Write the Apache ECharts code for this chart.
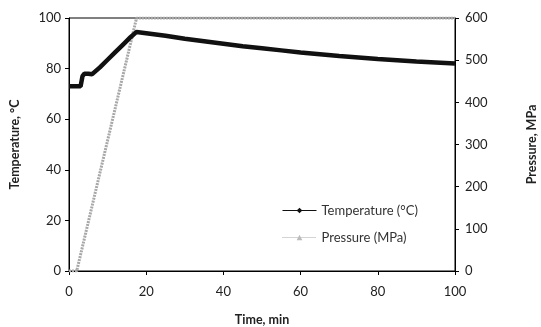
<!DOCTYPE html>
<html><head><meta charset="utf-8">
<script src="https://cdn.jsdelivr.net/npm/echarts@6/dist/echarts.min.js"></script>
<style>html,body{margin:0;padding:0;background:#fff}#c{width:541px;height:327px}</style>
</head><body><div id="c"></div>
<script>
const tempTime = [0,1,2,3,3.5,4,5,6,8,10,12,14,16,17.5,20,25,30,35,40,45,50,55,60,65,70,75,80,85,90,95,100];
const tempValues = [73,73,73,73,77,78,78,77.8,80.5,83.5,86.5,89.5,92.5,94.5,94,93,91.8,90.8,89.8,88.8,88,87.2,86.4,85.7,85,84.4,83.8,83.3,82.8,82.4,82];
const pressTime = [0,2,17.5,100];
const pressValues = [0,0,600,600];
const F = 'Lato';
const chart = echarts.init(document.getElementById('c'));
chart.setOption({
  animation:false,
  textStyle:{fontFamily:F},
  grid:{left:69,right:86,top:18,bottom:56,show:true,borderColor:'#000',borderWidth:1,
        containLabel:false,outerBoundsMode:'none'},
  legend:{orient:'vertical',left:277,top:199,itemWidth:34,itemHeight:7,itemGap:14,
    textStyle:{fontFamily:F,fontSize:13,color:'#333'},
    data:[
      {name:'Temperature (°C)',lineStyle:{width:1},itemStyle:{color:'#111'}},
      {name:'Pressure (MPa)',lineStyle:{width:1,type:'dotted'},itemStyle:{color:'#bbb'}}
    ]},
  xAxis:{type:'value',min:0,max:100,interval:20,
    name:'Time, min',nameLocation:'middle',nameGap:42,
    nameTextStyle:{fontFamily:F,fontWeight:'bold',fontSize:12.5,color:'#222'},
    axisLine:{lineStyle:{color:'#000'}},axisTick:{show:true,length:4,lineStyle:{color:'#000'}},
    axisLabel:{fontSize:13,color:'#222',margin:14},splitLine:{show:false}},
  yAxis:[
    {type:'value',min:0,max:100,interval:20,position:'left',
     name:'Temperature, °C',nameLocation:'middle',nameGap:48,nameRotate:90,
     nameTextStyle:{fontFamily:F,fontWeight:'bold',fontSize:12.5,color:'#222'},
     axisLine:{show:true,lineStyle:{color:'#000'}},axisTick:{show:true,length:4,lineStyle:{color:'#000'}},
     axisLabel:{fontSize:13,color:'#222',margin:8},splitLine:{show:false}},
    {type:'value',min:0,max:600,interval:100,position:'right',
     name:'Pressure, MPa',nameLocation:'middle',nameGap:70,nameRotate:90,
     nameTextStyle:{fontFamily:F,fontWeight:'bold',fontSize:12.5,color:'#222'},
     axisLine:{show:true,lineStyle:{color:'#000'}},axisTick:{show:true,length:4,lineStyle:{color:'#000'}},
     axisLabel:{fontSize:13,color:'#222',margin:10},splitLine:{show:false}}
  ],
  series:[
    {name:'Pressure (MPa)',type:'line',yAxisIndex:1,
     data:pressTime.map((t,i)=>[t,pressValues[i]]),
     symbol:'triangle',symbolSize:5,showSymbol:false,
     itemStyle:{color:'#bbb'},
     lineStyle:{color:'#a8a8a8',width:3,type:[2,1]}},
    {name:'Temperature (°C)',type:'line',yAxisIndex:0,
     data:tempTime.map((t,i)=>[t,tempValues[i]]),
     symbol:'diamond',symbolSize:6,showSymbol:false,
     itemStyle:{color:'#111'},
     lineStyle:{color:'#111',width:4.5}}
  ]
});
</script></body></html>
